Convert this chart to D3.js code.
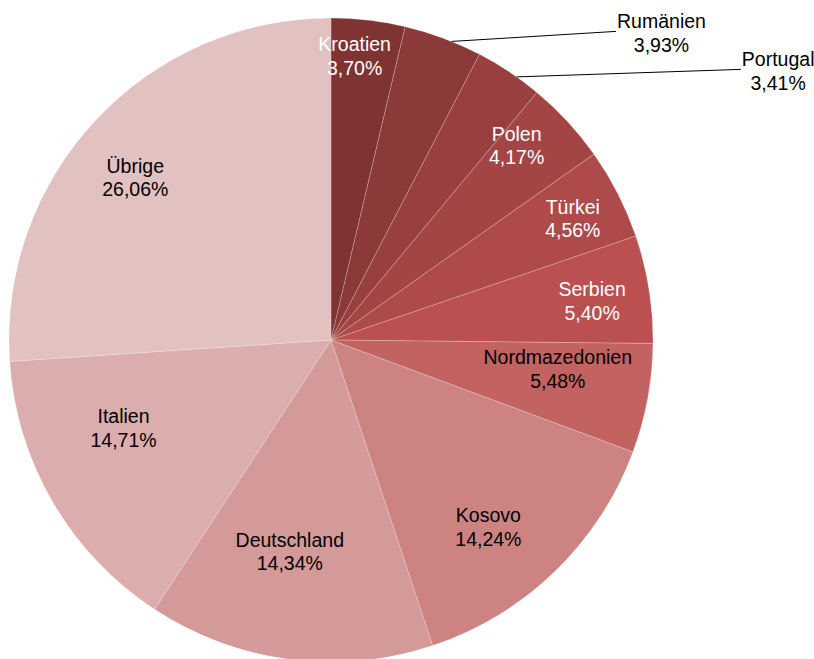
<!DOCTYPE html>
<html><head><meta charset="utf-8">
<script src="https://cdn.jsdelivr.net/npm/d3@7"></script>
<style>html,body{margin:0;padding:0;background:#fff}svg{display:block}</style>
</head><body>
<svg id="chart" width="814" height="659"></svg>
<script>
// Data
const categories = ["Kroatien","Rumänien","Portugal","Polen","Türkei","Serbien","Nordmazedonien","Kosovo","Deutschland","Italien","Übrige"];
const values = [3.70, 3.93, 3.41, 4.17, 4.56, 5.40, 5.48, 14.24, 14.34, 14.71, 26.06];
const valueLabels = ["3,70%","3,93%","3,41%","4,17%","4,56%","5,40%","5,48%","14,24%","14,34%","14,71%","26,06%"];

// Styling / layout (kept separate from data)
const colors = ["#7f3333","#8b3939","#993f3f","#a44545","#af4a4a","#bb5050","#c26362","#cd8382","#d39a99","#dbadad","#e2c1c1"];
const textColors = ["#fff","#000","#000","#fff","#fff","#fff","#000","#000","#000","#000","#000"];
// label placement: [radius fraction, angle offset (deg), outside?]
const labelPlace = [[0.885,-1.9,false],[1.4,26.75,true],[1.62,25.4,true],[0.835,-3.6,false],[0.84,0.4,false],[0.82,0.6,false],[0.71,-3.2,false],[0.76,4,false],[0.67,3.6,false],[0.70,7.3,false],[0.79,-3.4,false]];

const cx = 331, cy = 340, R = 322;
const fontSize = 19.5, lineH = 23.5;

const svg = d3.select("#chart");
const g = svg.append("g").attr("transform", `translate(${cx},${cy})`);

const pie = d3.pie().sort(null).value(d => d.v).startAngle(0).endAngle(2*Math.PI);
const data = categories.map((c,i) => ({c, v: values[i], lbl: valueLabels[i], i}));
const arcs = pie(data);
const arc = d3.arc().innerRadius(0).outerRadius(R);

g.selectAll("path.slice").data(arcs).join("path")
  .attr("class","slice")
  .attr("d", arc)
  .attr("fill", d => colors[d.data.i])
  .attr("stroke", "rgba(255,255,255,0.35)")
  .attr("stroke-width", 0.6);

function polar(r, a) { return [r*Math.sin(a), -r*Math.cos(a)]; }

arcs.forEach(d => {
  const i = d.data.i;
  const [fr, off, outside] = labelPlace[i];
  const mid = (d.startAngle + d.endAngle)/2;
  const a = mid + off*Math.PI/180;
  const [x, y] = polar(R*fr, a);
  if (outside) {
    const [sx, sy] = polar(R, mid + 1.6*Math.PI/180);
    const tmp = g.append("text").attr("font-family","'Liberation Sans', Arial, sans-serif").attr("font-size",fontSize).text(d.data.c);
    const w = tmp.node().getComputedTextLength();
    tmp.remove();
    g.append("line")
      .attr("x1", sx).attr("y1", sy)
      .attr("x2", x - w/2 - 1).attr("y2", y - 2)
      .attr("stroke", "#000").attr("stroke-width", 1);
  }
  const t = g.append("text")
    .attr("font-family","'Liberation Sans', Arial, sans-serif")
    .attr("font-size", fontSize)
    .attr("fill", textColors[i])
    .attr("text-anchor","middle");
  t.append("tspan").attr("x", x).attr("y", y - lineH/2 + fontSize*0.35).text(d.data.c);
  t.append("tspan").attr("x", x).attr("y", y + lineH/2 + fontSize*0.35).text(d.data.lbl);
});
</script>
</body></html>
